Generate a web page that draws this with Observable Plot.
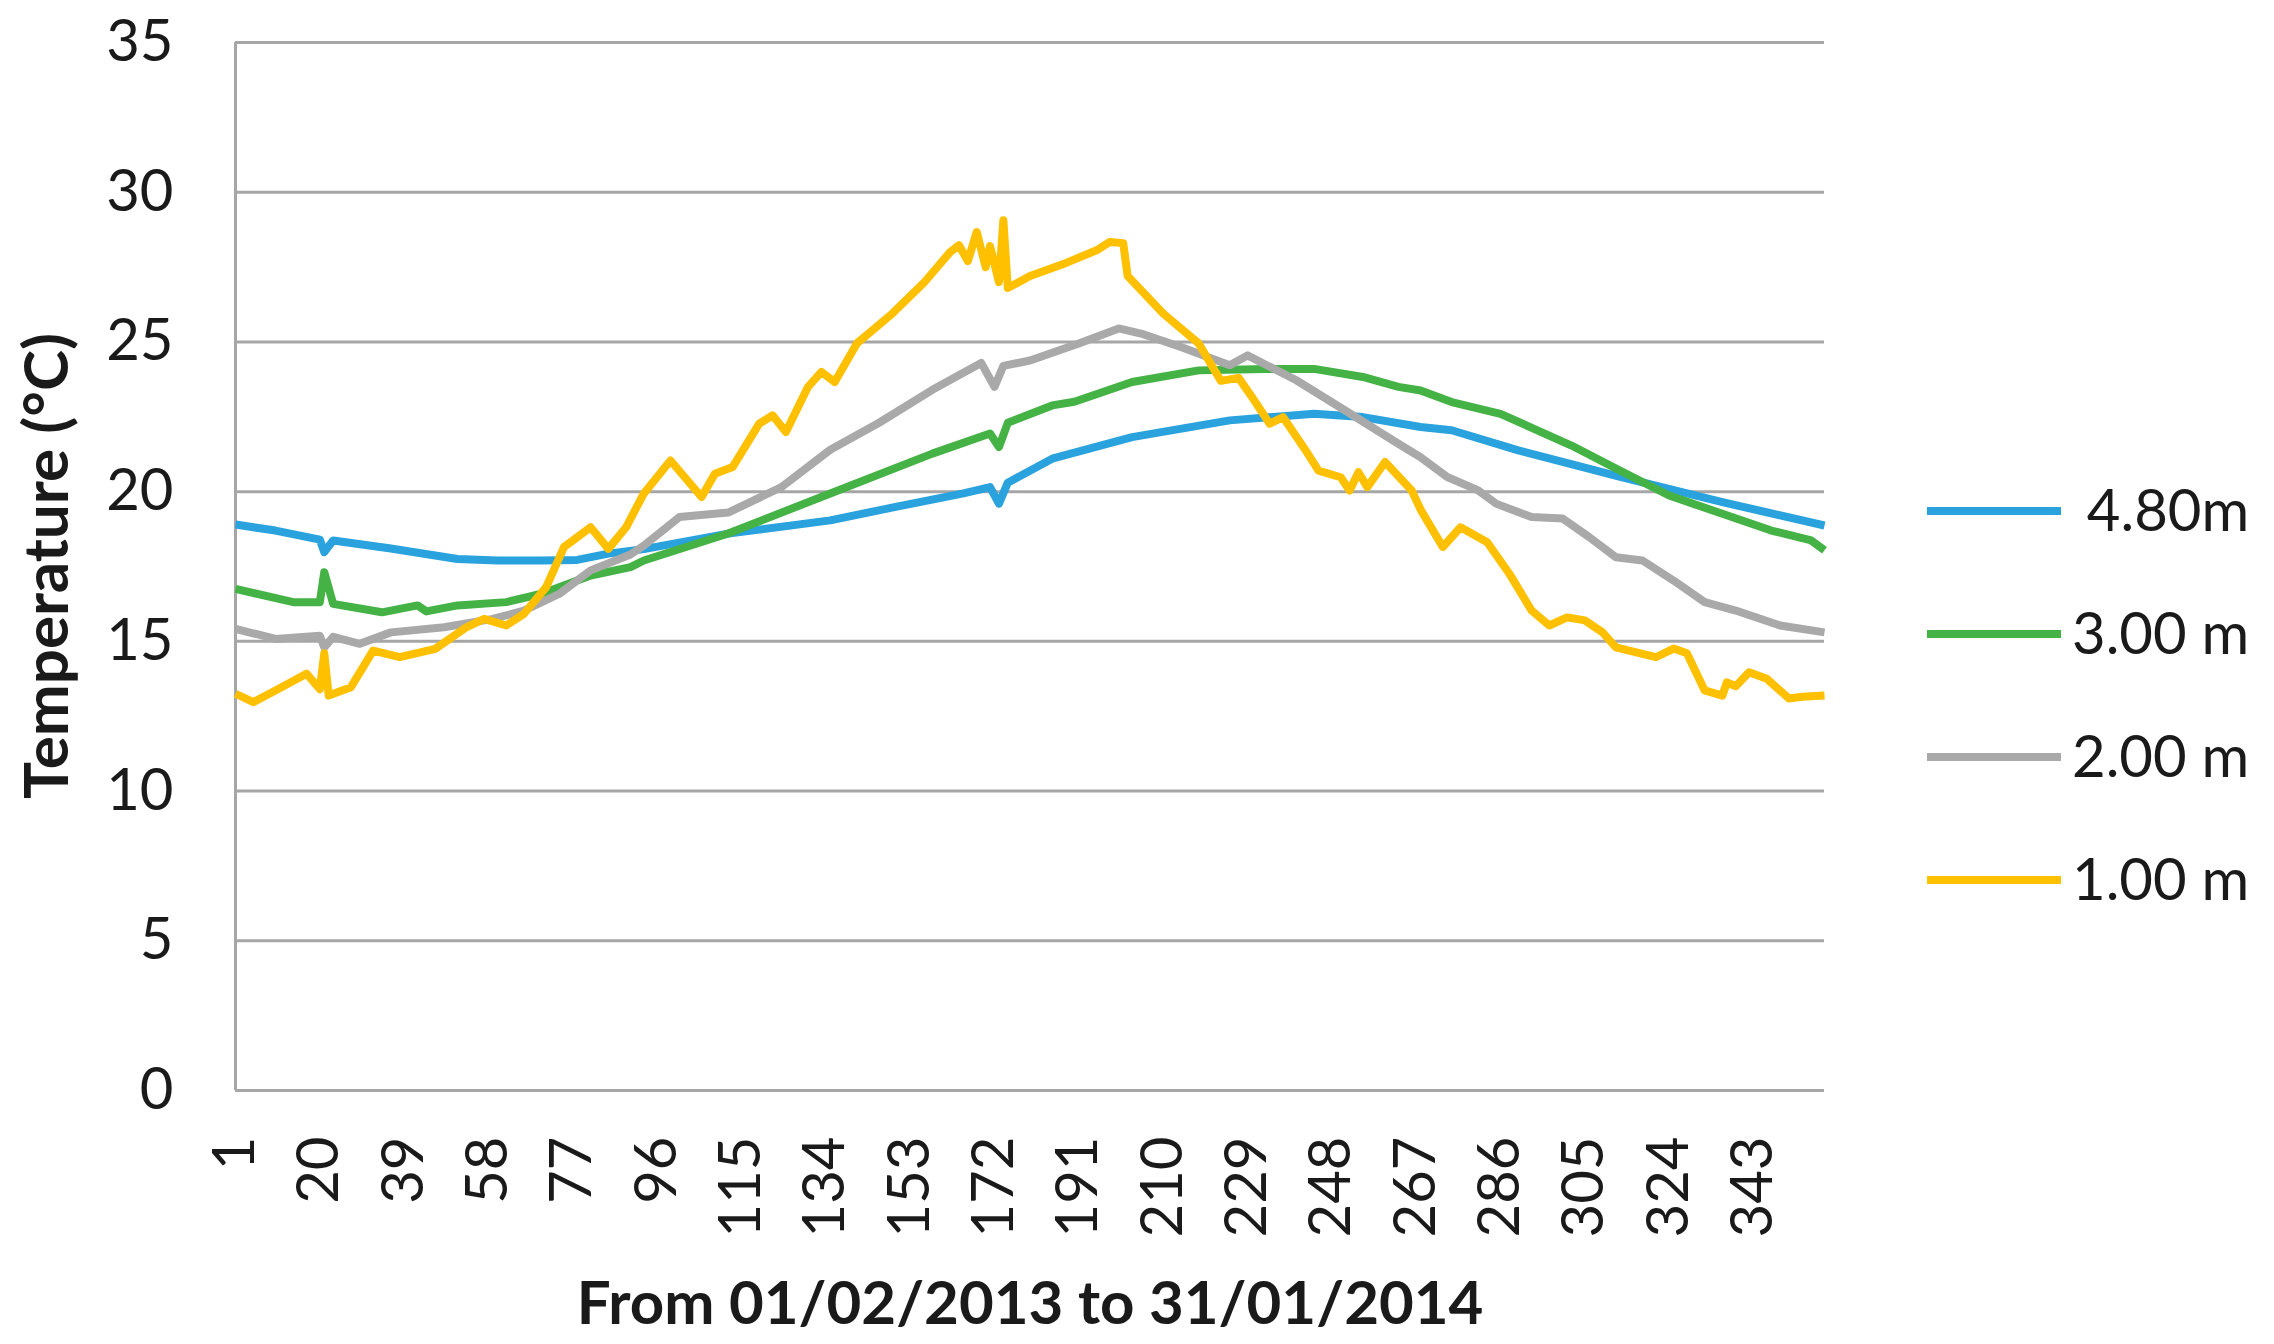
<!DOCTYPE html>
<html>
<head>
<meta charset="utf-8">
<script src="https://cdn.jsdelivr.net/npm/d3@7"></script>
<script src="https://cdn.jsdelivr.net/npm/@observablehq/plot@0.6"></script>
<style>
  html, body { margin: 0; padding: 0; background: #fff; }
  #chart { width: 2274px; height: 1344px; }
</style>
</head>
<body>
<div id="chart"></div>
<script>
// ---- data ----
const seriesNames = [" 4.80m", "3.00 m", "2.00 m", "1.00 m"];
const seriesColors = ["#29a2de", "#44b245", "#a9a9a9", "#ffc000"];

const yTicks = [0, 5, 10, 15, 20, 25, 30, 35];
const xTicks = [1, 20, 39, 58, 77, 96, 115, 134, 153, 172, 191, 210, 229, 248, 267, 286, 305, 324, 343];

const days480 = [1, 10, 20, 21, 23, 36, 51, 60, 70, 78, 85, 93, 112, 135, 150, 165, 171, 173, 175, 185, 203, 225, 244, 255, 268, 275, 290, 313, 336, 359];
const temp480 = [18.9, 18.7, 18.4, 17.98, 18.37, 18.1, 17.75, 17.7, 17.7, 17.72, 17.93, 18.08, 18.6, 19.04, 19.5, 19.94, 20.15, 19.6, 20.3, 21.1, 21.82, 22.38, 22.6, 22.49, 22.16, 22.05, 21.38, 20.49, 19.65, 18.87];

const days300 = [1, 14, 20, 21, 23, 34, 42, 44, 51, 62, 70, 81, 90, 93, 112, 135, 158, 171, 173, 175, 185, 190, 203, 218, 233, 244, 255, 263, 268, 275, 286, 302, 313, 324, 336, 347, 356, 359];
const temp300 = [16.75, 16.31, 16.31, 17.31, 16.25, 15.97, 16.2, 16.0, 16.2, 16.31, 16.59, 17.2, 17.48, 17.7, 18.6, 19.94, 21.27, 21.94, 21.49, 22.3, 22.88, 23.0, 23.66, 24.05, 24.1, 24.1, 23.83, 23.5, 23.38, 22.99, 22.6, 21.54, 20.7, 19.87, 19.26, 18.7, 18.37, 18.04];

const days200 = [1, 10, 20, 21, 23, 29, 36, 48, 59, 66, 74, 81, 90, 93, 101, 112, 124, 135, 146, 158, 169, 172, 174, 180, 191, 200, 205, 214, 225, 229, 240, 251, 263, 268, 274, 281, 285, 293, 300, 306, 312, 318, 325, 332, 339, 349, 359];
const temp200 = [15.42, 15.08, 15.19, 14.8, 15.15, 14.92, 15.3, 15.47, 15.75, 16.03, 16.59, 17.37, 17.9, 18.2, 19.15, 19.3, 20.15, 21.4, 22.3, 23.4, 24.3, 23.5, 24.2, 24.38, 24.95, 25.45, 25.28, 24.83, 24.22, 24.55, 23.72, 22.71, 21.6, 21.15, 20.49, 20.04, 19.6, 19.15, 19.1, 18.48, 17.81, 17.7, 17.03, 16.31, 16.03, 15.53, 15.3];

const days100 = [1, 5, 10, 17, 20, 21, 22, 27, 32, 38, 46, 53, 57, 62, 66, 71, 75, 77, 81, 85, 89, 93, 99, 106, 109, 113, 119, 122, 125, 130, 133, 136, 141, 149, 156, 162, 164, 166, 168, 170, 171, 173, 174, 175, 180, 188, 195, 198, 201, 202, 210, 218, 223, 227, 230, 234, 237, 242, 245, 250, 252, 254, 256, 260, 266, 268, 273, 277, 283, 288, 293, 297, 301, 305, 309, 312, 321, 325, 328, 332, 336, 337, 339, 342, 346, 351, 354, 359];
const temp100 = [13.25, 12.97, 13.36, 13.92, 13.4, 14.6, 13.19, 13.47, 14.69, 14.47, 14.75, 15.47, 15.75, 15.53, 15.92, 16.81, 18.15, 18.37, 18.81, 18.09, 18.81, 19.94, 21.04, 19.82, 20.6, 20.82, 22.27, 22.55, 21.99, 23.5, 24.0, 23.66, 24.95, 25.95, 26.96, 28.0, 28.23, 27.7, 28.67, 27.5, 28.2, 27.0, 29.06, 26.8, 27.2, 27.63, 28.06, 28.34, 28.3, 27.2, 25.95, 24.95, 23.7, 23.8, 23.16, 22.27, 22.49, 21.4, 20.7, 20.48, 20.04, 20.65, 20.15, 20.99, 20.04, 19.4, 18.15, 18.81, 18.31, 17.26, 16.03, 15.53, 15.8, 15.7, 15.3, 14.8, 14.47, 14.76, 14.6, 13.36, 13.19, 13.63, 13.5, 13.97, 13.75, 13.09, 13.15, 13.19];

const xTitle = "From 01/02/2013 to 31/01/2014";
const yTitle = "Temperature (°C)";

// ---- build tables ----
const allDays = [days480, days300, days200, days100];
const allTemps = [temp480, temp300, temp200, temp100];
const rows = [];
allDays.forEach((ds, i) => ds.forEach((d, j) => rows.push({series: seriesNames[i], day: d, temp: allTemps[i][j]})));

const W = 2274, H = 1344;
const ML = 235, MR = W - 1824, MT = 42, MB = H - 1090;

const plot = Plot.plot({
  width: W,
  height: H,
  marginLeft: ML,
  marginRight: MR,
  marginTop: MT,
  marginBottom: MB,
  style: {fontFamily: "Lato, 'Noto Sans', sans-serif", fontSize: "58px", color: "#1a1a1a", background: "#fff", overflow: "visible"},
  x: {domain: [1, 359], label: null},
  y: {domain: [0, 35], label: null},
  color: {domain: seriesNames, range: seriesColors},
  marks: [
    Plot.gridY(yTicks, {stroke: "#a6a6a6", strokeOpacity: 1, strokeWidth: 3}),
    Plot.ruleX([1], {stroke: "#a6a6a6", strokeWidth: 3}),
    Plot.axisY(yTicks, {tickSize: 0, tickPadding: 62, fontSize: 58, label: null}),
    Plot.axisX(xTicks, {tickSize: 0, tickRotate: -90, tickPadding: 46, fontSize: 58, label: null}),
    Plot.line(rows, {x: "day", y: "temp", z: "series", stroke: "series", strokeWidth: 8, strokeLinejoin: "round", strokeLinecap: "butt"})
  ]
});

document.getElementById("chart").appendChild(plot);

const svg = d3.select(plot);

// axis titles
svg.append("text")
  .attr("x", 1030).attr("y", 1324)
  .attr("text-anchor", "middle")
  .attr("font-weight", "bold")
  .attr("font-size", 60)
  .attr("fill", "#1a1a1a")
  .text(xTitle);

svg.append("text")
  .attr("transform", "translate(68,566) rotate(-90)")
  .attr("text-anchor", "middle")
  .attr("font-weight", "bold")
  .attr("font-size", 62)
  .attr("fill", "#1a1a1a")
  .text(yTitle);

// legend
const legendY = [511, 634, 757, 880];
const lg = svg.append("g").attr("text-anchor", "start");
seriesNames.forEach((name, i) => {
  lg.append("line")
    .attr("x1", 1927).attr("x2", 2061)
    .attr("y1", legendY[i]).attr("y2", legendY[i])
    .attr("stroke", seriesColors[i]).attr("stroke-width", 8);
  lg.append("text")
    .attr("x", 2072).attr("y", legendY[i])
    .attr("dy", "0.35em")
    .attr("text-anchor", "start")
    .attr("font-size", 58)
    .attr("fill", "#1a1a1a")
    .style("white-space", "pre")
    .text(name);
});
</script>
</body>
</html>
